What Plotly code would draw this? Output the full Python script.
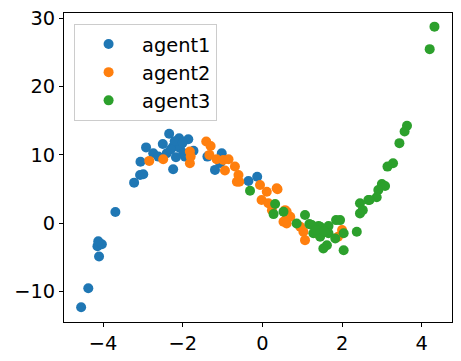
import plotly.graph_objects as go

# agent1 (blue)
x1 = [-4.55, -4.37, -4.10, -4.14, -4.03, -4.12, -3.69, -3.22, -3.07, -2.99, -3.06,
      -2.92, -2.74, -2.50, -2.34, -2.24, -2.09, -2.17, -2.24, -2.07, -1.86, -1.73,
      -1.98, -2.40, -2.61, -1.94, -1.38, -1.19, -1.02, -1.06, -1.02, -0.35, -0.13,
      -2.20, -2.00, -2.30]
y1 = [-12.35, -9.56, -4.9, -3.38, -3.09, -2.65, 1.62, 5.93, 7.06, 7.16, 9.0,
      11.1, 10.25, 11.6, 13.1, 7.9, 12.45, 9.66, 11.2, 11.0, 12.3, 10.6,
      10.25, 10.25, 9.75, 9.75, 9.75, 7.8, 9.5, 8.8, 10.25, 6.18, 6.8,
      12.0, 11.8, 10.8]

# agent2 (orange)
x2 = [-2.84, -2.49, -1.82, -1.82, -1.80, -1.41, -1.30, -1.33, -1.15, -0.98, -0.85,
      -0.94, -0.69, -0.64, -0.60, -0.58, -0.06, 0.11, 0.38, -0.02, 0.15, 0.24,
      0.36, 0.61, 0.53, 0.70, 0.61, 0.57, 1.03, 1.07, 0.95, 2.00, 0.61, 1.35, 1.90]
y2 = [9.12, 9.37, 10.5, 8.78, 9.75, 11.96, 11.3, 10.0, 9.37, 9.26, 9.37,
      7.7, 8.3, 6.07, 7.06, 6.07, 5.59, 4.6, 4.95, 3.38, 2.9, 1.9,
      5.1, 1.66, 0.2, 0.93, 0.69, 1.9, -1.28, -2.5, -0.54, -1.03, -0.05, -1.5, -2.0]

# agent3 (green)
x3 = [-0.31, 0.32, 0.53, 0.28, 1.07, 0.86, 1.18, 1.41, 1.66, 1.85, 1.95, 1.24,
      1.45, 1.28, 1.45, 1.66, 1.83, 2.04, 2.37, 1.62, 1.53, 2.04, 2.45, 2.45,
      2.66, 3.63, 3.57, 3.44, 3.28, 3.14, 3.00, 3.08, 2.91, 2.87, 2.69, 2.52,
      4.32, 4.20, 1.35, 1.55]
y3 = [4.75, 2.8, 1.66, 1.32, 1.18, -0.05, -0.15, -0.44, -0.44, 0.44, 0.44, -0.29,
      -0.54, -1.5, -2.0, -1.5, -2.25, -1.5, -1.28, -3.24, -3.73, -3.97, 2.9, 1.42,
      3.38, 14.26, 13.43, 11.72, 8.78, 8.28, 5.74, 5.44, 4.85, 3.78, 3.38, 1.9,
      28.8, 25.5, -1.0, -1.2]

x_ticks = [-4, -2, 0, 2, 4]
y_ticks = [-10, 0, 10, 20, 30]

fig = go.Figure()
for name, xs, ys, color in [("agent1", x1, y1, "#1f77b4"),
                            ("agent2", x2, y2, "#ff7f0e"),
                            ("agent3", x3, y3, "#2ca02c")]:
    fig.add_trace(go.Scatter(x=xs, y=ys, mode="markers", name=name,
                             marker=dict(color=color, size=10, line=dict(width=0))))

axis_style = dict(showgrid=False, zeroline=False, showline=True, mirror=True,
                  linecolor="black", linewidth=1, ticks="outside", ticklen=4,
                  tickcolor="black", tickfont=dict(size=19.4, color="black"),
                  automargin=False, ticklabeloverflow="allow")

# page body has an 8px margin, so the figure is a bit smaller than the window
fig.update_layout(
    width=453, height=353,
    margin=dict(l=56, r=9, t=5, b=39),
    paper_bgcolor="white", plot_bgcolor="white",
    font=dict(family="DejaVu Sans", color="black"),
    xaxis=dict(range=[-4.98, 4.76], tickvals=x_ticks, **axis_style),
    yaxis=dict(range=[-14.5, 30.8], tickvals=y_ticks, **axis_style),
    legend=dict(x=0.026, y=0.965, xanchor="left", yanchor="top",
                bgcolor="rgba(255,255,255,0.8)", bordercolor="#cccccc",
                borderwidth=1, font=dict(size=19.4), itemwidth=57),
)

fig.write_html("out.html")
